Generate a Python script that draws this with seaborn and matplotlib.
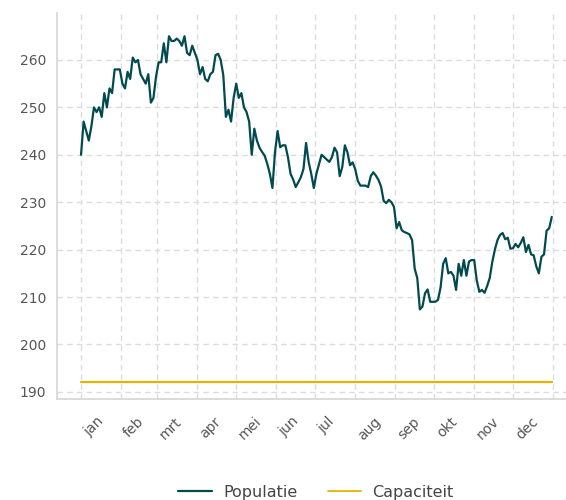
import pandas as pd
import seaborn as sns
import matplotlib.pyplot as plt

# maandlabels en reeksen (populatie om de 2 dagen)
maanden = ['jan', 'feb', 'mrt', 'apr', 'mei', 'jun', 'jul', 'aug', 'sep', 'okt', 'nov', 'dec']
capaciteit = 192
populatie = [
    240, 247, 245, 243, 246, 250, 249, 250, 248, 253, 250, 254, 253, 258, 258, 258,
    255, 254, 257.5, 256, 260.5, 259.5, 260, 257, 256, 255, 257, 251, 252, 256.5, 259.5,
    259.5, 263.5, 259.5, 265, 264, 264, 264.5, 264, 263, 265, 261.5, 261, 263, 261.5,
    260, 257, 258.5, 256, 255.5, 257, 257.5, 261, 261.3, 260, 256.8, 248, 249.5, 247,
    252, 255, 252,
    253, 250, 249, 247, 240, 245.5, 243, 241.5, 240.6, 239.8, 238.1, 236, 233, 240.6,
    245, 241.6, 242, 242, 239.5, 236, 234.8, 233.2, 234.2, 235.3, 237, 242.5, 238.5,
    236, 233, 236, 238,
    240, 239.5, 239, 238.5, 239.5, 241.5, 240.5, 235.5, 237.4, 242, 240.5, 237.8,
    238.4, 237, 234.5, 233.5, 233.5, 233.5, 233.2, 235.5, 236.3, 235.6, 234.7, 233.3,
    230.3, 229.8, 230.5, 230, 229, 224.5, 225.8,
    224.1, 223.7, 223.5, 223.2, 222, 216, 214, 207.4, 208, 210.8, 211.6, 209, 209, 209,
    209.4, 212, 217, 218.2, 215, 215.3, 214.5, 211.5, 217, 214.5, 217.8, 214.5, 217.5,
    217.8, 217.8, 213.5, 211.1,
    211.5, 210.9, 212.3, 214, 217.4, 220, 222, 223.1, 223.5, 222.2, 222.5, 220.2, 220.3,
    221.2, 220.5, 221.4, 222.6, 219.5, 221, 219, 218.8, 216.5, 215, 218.5, 219, 224,
    224.5, 226.9,
]

datums = pd.date_range('2019-01-01', periods=len(populatie), freq='2D')
df = pd.concat([
    pd.DataFrame({'Datum': datums, 'Aantal': populatie, 'Reeks': 'Populatie'}),
    pd.DataFrame({'Datum': datums, 'Aantal': capaciteit, 'Reeks': 'Capaciteit'}),
])

sns.set_style('white')
plt.rcParams['font.family'] = ['DejaVu Sans']

fig = plt.figure(figsize=(5.66, 5.0), dpi=100)
ax = fig.add_axes([57 / 566, 101 / 500, 509 / 566, 386 / 500])

kleuren = {'Populatie': '#014a50', 'Capaciteit': '#e6b400'}
sns.lineplot(df, ax=ax, x='Datum', y='Aantal', hue='Reeks', palette=kleuren,
             linewidth=1.6)
for line in ax.get_lines():
    if line.get_label() == 'Capaciteit':
        line.set_linewidth(1.3)

ax.set_xlim(pd.Timestamp('2018-12-13 10:00'), pd.Timestamp('2020-01-11'))
ax.set_ylim(188.5, 269.9)
ax.set_yticks(range(190, 261, 10))

ticks = pd.date_range('2019-01-01', '2020-01-01', freq='MS')
ax.set_xticks(ticks)
ax.set_xticklabels(maanden + [''], rotation=45, ha='left', va='top')

ax.set_xlabel('')
ax.set_ylabel('')
ax.grid(True, linestyle=(0, (4, 3)), color='#dcdcdc', linewidth=1)
ax.tick_params(axis='x', length=0, pad=11, labelsize=10, labelcolor='#555555')
ax.tick_params(axis='y', length=0, pad=8, labelsize=10, labelcolor='#555555')

sns.despine(ax=ax)
for s in ['left', 'bottom']:
    ax.spines[s].set_color('#d6d6d6')
    ax.spines[s].set_linewidth(1.2)

# legenda onderaan de figuur
handles, labels = ax.get_legend_handles_labels()
ax.get_legend().remove()
volgorde = [labels.index('Populatie'), labels.index('Capaciteit')]
leg = fig.legend([handles[i] for i in volgorde], [labels[i] for i in volgorde],
                 loc='center', bbox_to_anchor=(316 / 566, 1 - 492 / 500), ncol=2,
                 frameon=False, fontsize=11.5, handlelength=2.1, handletextpad=0.7,
                 columnspacing=1.9)
for t in leg.get_texts():
    t.set_color('#444444')

fig.savefig('out.png', dpi=100)
